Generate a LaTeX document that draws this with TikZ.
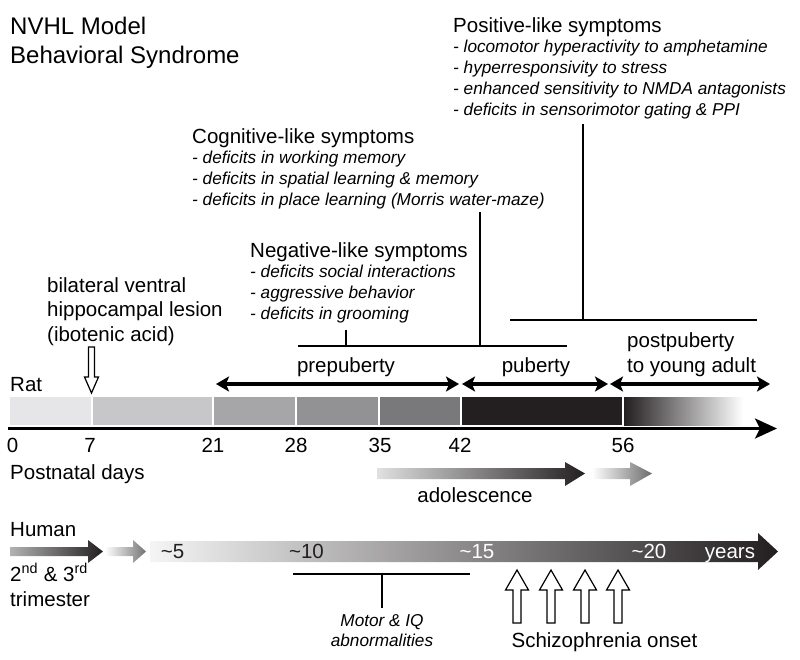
\documentclass[tikz,border=0pt]{standalone}
\usepackage{fontspec}
\setmainfont{Liberation Sans}
\usetikzlibrary{arrows.meta}
\definecolor{dk}{HTML}{231F20}
\definecolor{sA}{HTML}{E6E6E8}
\definecolor{sB}{HTML}{C7C7C9}
\definecolor{sC}{HTML}{A6A6A8}
\definecolor{sD}{HTML}{929294}
\definecolor{sE}{HTML}{79797B}
\tikzset{
  lbl/.style={inner sep=0pt, anchor=base west, font=\fontsize{20.5}{24}\selectfont, text=black},
  lblc/.style={lbl, anchor=base},
  itl/.style={inner sep=0pt, anchor=base west, font=\fontsize{17.2}{20}\selectfont\itshape},
  itlc/.style={itl, anchor=base},
  ttl/.style={inner sep=0pt, anchor=base west, font=\fontsize{24}{28}\selectfont},
  ln/.style={line width=1.6pt, draw=black},
  dbl/.style={line width=3.2pt, {Stealth[length=13pt,width=15pt,inset=3pt]}-{Stealth[length=13pt,width=15pt,inset=3pt]}},
  hollow/.style={draw=black, fill=white, line width=1.2pt, line join=miter},
}
\begin{document}
\begin{tikzpicture}[x=1pt,y=-1pt]
\useasboundingbox (0,0) rectangle (800,659);

% title
\node[ttl] (t1) at (10,34) {NVHL Model};
\node[ttl] (t2) at (10,63) {Behavioral Syndrome};

% positive
\node[lbl] (pos) at (453,32) {Positive-like symptoms};
\node[itl] (pos1) at (453,52.75) {- locomotor hyperactivity to amphetamine};
\node[itl] (pos2) at (453,73.5) {- hyperresponsivity to stress};
\node[itl] (pos3) at (453,94.25) {- enhanced sensitivity to NMDA antagonists};
\node[itl] (pos4) at (453,115) {- deficits in sensorimotor gating \& PPI};

% cognitive
\node[lbl] (cog) at (192,143) {Cognitive-like symptoms};
\node[itl] (cog1) at (192,163.75) {- deficits in working memory};
\node[itl] (cog2) at (192,184.5) {- deficits in spatial learning \& memory};
\node[itl] (cog3) at (192,205.25) {- deficits in place learning (Morris water-maze)};

% negative
\node[lbl] (neg) at (250,257) {Negative-like symptoms};
\node[itl] (neg1) at (250,277.75) {- deficits social interactions};
\node[itl] (neg2) at (250,298.5) {- aggressive behavior};
\node[itl] (neg3) at (250,319.25) {- deficits in grooming};

% lesion
\node[lbl] (les1) at (47,292) {bilateral ventral};
\node[lbl] (les2) at (47,316.5) {hippocampal lesion};
\node[lbl] (les3) at (47,341) {(ibotenic acid)};
\draw[hollow] (88.5,347) -- (94.5,347) -- (94.5,377) -- (98.5,377) -- (91.5,393)
  -- (84.5,377) -- (88.5,377) -- cycle;

% brackets
\coordinate (pv1) at (583,124);
\coordinate (pv2) at (583,320);
\coordinate (ph1) at (510,320);
\coordinate (ph2) at (757,320);
\draw[ln] (pv1) -- (pv2);
\draw[ln] (ph1) -- (ph2);
\coordinate (cv1) at (480,212);
\coordinate (cv2) at (480,346);
\draw[ln] (cv1) -- (cv2);
\coordinate (nv1) at (346,330);
\coordinate (nv2) at (346,346);
\coordinate (nh1) at (298,346);
\coordinate (nh2) at (567,346);
\draw[ln] (nv1) -- (nv2);
\draw[ln] (nh1) -- (nh2);

% rat
\node[lbl] (rat) at (10,391) {Rat};
\node[lblc] (pre) at (346,372) {prepuberty};
\node[lblc] (pub) at (536,372) {puberty};
\node[lbl] (post1) at (627,347) {postpuberty};
\node[lbl] (post2) at (627,372) {to young adult};
\coordinate (a21) at (216,384);
\coordinate (a42l) at (459,384);
\coordinate (a42r) at (462,384);
\coordinate (a56l) at (608,384);
\coordinate (a56r) at (610,384);
\coordinate (aend) at (770,384);
\draw[dbl] (a21) -- (a42l);
\draw[dbl] (a42r) -- (a56l);
\draw[dbl] (a56r) -- (aend);

% bar
\fill[sA] (10,397) rectangle (90.7,425);
\fill[sB] (92.7,397) rectangle (212.3,425);
\fill[sC] (214.3,397) rectangle (295.3,425);
\fill[sD] (297.3,397) rectangle (378.3,425);
\fill[sE] (380.3,397) rectangle (460.3,425);
\fill[dk] (462.3,397) rectangle (622,425);
\shade[left color=dk, right color=white] (624,397) rectangle (743,425);

% axis
\coordinate (ax0) at (8,428.5);
\coordinate (ax1) at (777,428.5);
\draw[line width=3pt, -{Stealth[length=22pt,width=20pt,inset=5pt]}] (ax0) -- (ax1);

\node[lblc] (d0) at (12.7,452) {0};
\node[lblc] (d7) at (90,452) {7};
\node[lblc] (d21) at (213,452) {21};
\node[lblc] (d28) at (296,452) {28};
\node[lblc] (d35) at (380,452) {35};
\node[lblc] (d42) at (460,452) {42};
\node[lblc] (d56) at (623,452) {56};
\node[lbl] (pnd) at (10,479) {Postnatal days};

% adolescence
\shade[left color=white!88!black, right color=dk]
  (377,468) -- (565,468) -- (565,462) -- (585,473.5) -- (565,486) -- (565,479) -- (377,479) -- cycle;
\shade[left color=white, right color=black!58]
  (592,468) -- (630,468) -- (630,462) -- (652,473.5) -- (630,486) -- (630,479) -- (592,479) -- cycle;
\node[lblc] (ado) at (475,502) {adolescence};

% human
\node[lbl] (hum) at (10,536) {Human};
\shade[left color=black!30, right color=dk]
  (10,547) -- (88,547) -- (88,540) -- (103,551.5) -- (88,563) -- (88,556) -- (10,556) -- cycle;
\shade[left color=white, right color=black!55]
  (105,547) -- (133,547) -- (133,540) -- (146,551.5) -- (133,563) -- (133,556) -- (105,556) -- cycle;
\node[lbl] (tri1) at (10,581) {2\textsuperscript{nd} \& 3\textsuperscript{rd}};
\node[lbl] (tri2) at (10,606) {trimester};

\shade[left color=black!4, middle color=black!50, right color=dk]
  (150,541) -- (758,541) -- (758,533) -- (778,551.5) -- (758,570) -- (758,562) -- (150,562) -- cycle;
\node[lblc, text=dk] (h5) at (172.5,558) {\textasciitilde5};
\node[lblc, text=dk] (h10) at (306.5,558) {\textasciitilde10};
\node[lblc, text=white] (h15) at (477,558) {\textasciitilde15};
\node[lblc, text=white] (h20) at (649,558) {\textasciitilde20};
\node[lblc, text=white] (yrs) at (730,558) {years};

% motor & IQ
\coordinate (mh1) at (293,574);
\coordinate (mh2) at (470,574);
\coordinate (mv1) at (382,574);
\coordinate (mv2) at (382,608);
\draw[ln] (mh1) -- (mh2);
\draw[ln] (mv1) -- (mv2);
\node[itlc] (mot1) at (382,626) {Motor \& IQ};
\node[itlc] (mot2) at (382,646) {abnormalities};

% schizophrenia onset
\foreach \x in {517,551,585,618}{
  \draw[hollow] (\x-4,623) -- (\x-4,590) -- (\x-11.5,590) -- (\x,570) -- (\x+11.5,590)
    -- (\x+4,590) -- (\x+4,623) -- cycle;
}
\node[lblc] (sch) at (604.5,647) {Schizophrenia onset};
\end{tikzpicture}
\end{document}
